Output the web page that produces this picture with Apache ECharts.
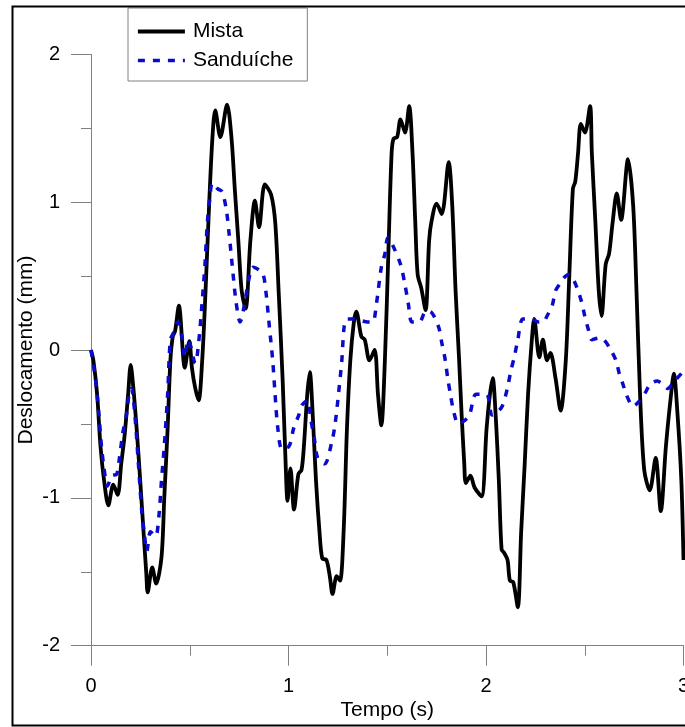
<!DOCTYPE html>
<html>
<head>
<meta charset="utf-8">
<script src="https://cdn.jsdelivr.net/npm/echarts@6/dist/echarts.min.js"></script>
<style>
html,body{margin:0;padding:0;background:#fff;overflow:hidden;}
#chart{width:685px;height:727px;}
</style>
</head>
<body>
<div id="chart"></div>
<script>
// ---- data ----
const seriesNames = ['Mista', 'Sanduíche'];
const xTicks = [0, 1, 2, 3];
const yTicks = [-2, -1, 0, 1, 2];

const timeMista = [0.000,0.012,0.031,0.048,0.066,0.088,0.113,0.135,0.153,0.170,0.188,0.201,0.214,0.231,0.249,0.266,0.280,0.287,0.310,0.330,0.357,0.371,0.388,0.402,0.414,0.426,0.445,0.475,0.498,0.511,0.528,0.545,0.563,0.580,0.598,0.615,0.629,0.655,0.689,0.711,0.728,0.746,0.763,0.783,0.807,0.830,0.851,0.880,0.912,0.933,0.950,0.970,0.985,0.995,1.010,1.028,1.050,1.066,1.078,1.095,1.108,1.122,1.139,1.157,1.171,1.192,1.209,1.223,1.244,1.261,1.279,1.296,1.313,1.331,1.343,1.369,1.386,1.410,1.436,1.453,1.470,1.488,1.505,1.522,1.532,1.550,1.567,1.590,1.611,1.628,1.642,1.654,1.672,1.694,1.712,1.724,1.750,1.776,1.811,1.829,1.846,1.864,1.876,1.890,1.898,1.921,1.942,1.977,2.003,2.020,2.034,2.048,2.065,2.079,2.091,2.109,2.121,2.138,2.161,2.178,2.196,2.213,2.231,2.244,2.270,2.288,2.309,2.326,2.352,2.378,2.404,2.422,2.440,2.452,2.466,2.480,2.501,2.527,2.536,2.554,2.571,2.585,2.606,2.623,2.641,2.662,2.684,2.719,2.745,2.762,2.780,2.801,2.829,2.859,2.885,2.911,2.937,2.951,2.969,2.989,3.000];
const valuesMista = [0.00,-0.07,-0.30,-0.65,-0.88,-1.05,-0.91,-0.98,-0.77,-0.58,-0.30,-0.10,-0.25,-0.53,-0.88,-1.23,-1.51,-1.64,-1.47,-1.58,-1.40,-1.00,-0.53,-0.07,0.09,0.13,0.30,-0.12,0.06,-0.12,-0.26,-0.34,-0.07,0.40,0.98,1.44,1.62,1.44,1.66,1.44,1.09,0.74,0.40,0.28,0.74,1.01,0.83,1.12,1.05,0.86,0.40,-0.19,-0.75,-1.02,-0.80,-1.08,-0.84,-0.81,-0.65,-0.30,-0.15,-0.42,-0.88,-1.23,-1.41,-1.42,-1.53,-1.65,-1.53,-1.56,-1.23,-0.53,-0.07,0.19,0.26,0.09,0.07,-0.07,0.00,-0.30,-0.51,-0.07,0.63,1.33,1.43,1.44,1.56,1.47,1.65,1.33,0.86,0.51,0.42,0.27,0.74,0.87,0.99,0.92,1.27,0.98,0.40,-0.07,-0.42,-0.77,-0.90,-0.85,-0.93,-0.99,-0.53,-0.30,-0.19,-0.42,-0.88,-1.35,-1.37,-1.42,-1.56,-1.57,-1.74,-1.23,-0.77,-0.30,0.05,0.21,-0.05,0.07,-0.07,-0.02,-0.19,-0.41,-0.07,0.51,1.09,1.14,1.33,1.53,1.47,1.65,1.33,0.86,0.40,0.23,0.58,0.65,0.86,1.06,0.88,1.29,0.98,0.40,-0.30,-0.81,-0.95,-0.73,-1.09,-0.65,-0.30,-0.16,-0.42,-0.88,-1.42];

const timeSand = [0.000,0.022,0.039,0.053,0.066,0.083,0.106,0.130,0.144,0.161,0.179,0.193,0.205,0.222,0.240,0.257,0.269,0.283,0.301,0.327,0.344,0.357,0.371,0.388,0.402,0.419,0.440,0.463,0.475,0.493,0.528,0.545,0.563,0.577,0.589,0.601,0.615,0.642,0.664,0.685,0.699,0.716,0.734,0.755,0.776,0.798,0.821,0.868,0.885,0.903,0.920,0.932,0.946,0.967,1.003,1.026,1.052,1.070,1.096,1.113,1.131,1.148,1.183,1.218,1.235,1.253,1.270,1.282,1.296,1.331,1.365,1.401,1.427,1.444,1.470,1.488,1.503,1.527,1.567,1.590,1.607,1.625,1.663,1.694,1.715,1.759,1.776,1.794,1.806,1.820,1.837,1.860,1.889,1.916,1.950,2.003,2.030,2.050,2.082,2.108,2.126,2.143,2.161,2.187,2.230,2.265,2.291,2.309,2.335,2.352,2.370,2.396,2.419,2.445,2.466,2.483,2.500,2.518,2.536,2.571,2.597,2.632,2.658,2.675,2.693,2.710,2.745,2.780,2.806,2.832,2.867,2.893,2.920,2.954,2.989,3.000];
const valuesSand = [0.00,-0.19,-0.42,-0.65,-0.80,-0.92,-0.85,-0.84,-0.73,-0.56,-0.44,-0.30,-0.26,-0.44,-0.77,-1.09,-1.23,-1.36,-1.23,-1.26,-1.12,-0.88,-0.65,-0.30,0.07,0.12,0.19,0.07,-0.05,0.07,-0.09,0.05,0.33,0.58,0.86,1.02,1.13,1.09,1.07,0.95,0.79,0.56,0.33,0.19,0.30,0.47,0.56,0.52,0.40,0.16,-0.07,-0.30,-0.53,-0.67,-0.65,-0.53,-0.44,-0.37,-0.34,-0.47,-0.60,-0.73,-0.77,-0.63,-0.51,-0.30,-0.07,0.16,0.21,0.21,0.20,0.19,0.19,0.30,0.56,0.65,0.76,0.71,0.58,0.44,0.31,0.19,0.19,0.26,0.26,0.16,0.05,-0.07,-0.19,-0.30,-0.42,-0.50,-0.48,-0.44,-0.30,-0.30,-0.44,-0.43,-0.38,-0.26,-0.14,-0.05,0.07,0.21,0.21,0.19,0.19,0.23,0.30,0.40,0.44,0.49,0.51,0.47,0.40,0.33,0.23,0.14,0.07,0.08,0.07,0.00,-0.07,-0.16,-0.23,-0.30,-0.38,-0.34,-0.29,-0.23,-0.21,-0.23,-0.26,-0.21,-0.16,-0.14];

const zip = (ts, vs) => ts.map((t, i) => [t, vs[i]]);

const FONT = 'Liberation Sans, Arial, sans-serif';
const AXIS_GRAY = '#808080';
const BLUE = '#0a0acc';

const chart = echarts.init(document.getElementById('chart'), null, {renderer: 'canvas'});
chart.setOption({
  animation: false,
  backgroundColor: '#fff',
  graphic: [{
    type: 'rect', left: 10, top: 4, z: 100, silent: true,
    shape: {width: 690, height: 719},
    style: {fill: 'none', stroke: '#000', lineWidth: 2}
  }],
  grid: {left: 91, top: 54.3, width: 592.5, height: 591.4, containLabel: false, outerBoundsMode: 'none'},
  legend: {
    orient: 'vertical', left: 128, top: 8,
    itemWidth: 47, itemHeight: 20, itemGap: 8,
    padding: [13, 14, 10, 8],
    borderColor: AXIS_GRAY, borderWidth: 1, backgroundColor: '#fff',
    icon: 'inherit',
    itemStyle: {opacity: 0},
    lineStyle: {width: 'inherit', opacity: 1},
    textStyle: {fontSize: 21, fontFamily: FONT, color: '#000', padding: [0, 0, 0, 3]},
    data: seriesNames
  },
  xAxis: {
    type: 'value', min: xTicks[0], max: xTicks[xTicks.length - 1], interval: 1,
    name: 'Tempo (s)', nameLocation: 'middle', nameGap: 54, nameMoveOverlap: false,
    nameTextStyle: {fontSize: 21, fontFamily: FONT, color: '#000'},
    axisLine: {show: true, onZero: false, lineStyle: {color: AXIS_GRAY, width: 1}},
    axisTick: {show: true, inside: false, length: 20, lineStyle: {color: AXIS_GRAY, width: 1}},
    minorTick: {show: true, splitNumber: 2, length: 10, lineStyle: {color: AXIS_GRAY, width: 1}},
    axisLabel: {fontSize: 20, fontFamily: FONT, color: '#000', margin: 31, hideOverlap: false},
    splitLine: {show: false}
  },
  yAxis: {
    type: 'value', min: yTicks[0], max: yTicks[yTicks.length - 1], interval: 1,
    name: 'Deslocamento (mm)', nameLocation: 'middle', nameGap: 54, nameMoveOverlap: false,
    nameTextStyle: {fontSize: 21, fontFamily: FONT, color: '#000'},
    axisLine: {show: true, onZero: false, lineStyle: {color: AXIS_GRAY, width: 1}},
    axisTick: {show: true, inside: false, length: 20, lineStyle: {color: AXIS_GRAY, width: 1}},
    minorTick: {show: true, splitNumber: 2, length: 10, lineStyle: {color: AXIS_GRAY, width: 1}},
    axisLabel: {fontSize: 20, fontFamily: FONT, color: '#000', margin: 31},
    splitLine: {show: false}
  },
  series: [{
    name: seriesNames[0], type: 'line', data: zip(timeMista, valuesMista),
    showSymbol: false, symbol: 'none', smooth: 0.3,
    lineStyle: {color: '#000', width: 3.8}, itemStyle: {color: '#000'}
  }, {
    name: seriesNames[1], type: 'line', data: zip(timeSand, valuesSand),
    showSymbol: false, symbol: 'none', smooth: 0.3,
    lineStyle: {color: BLUE, width: 3.5, type: [7, 8]}, itemStyle: {color: BLUE}
  }]
});
</script>
</body>
</html>
